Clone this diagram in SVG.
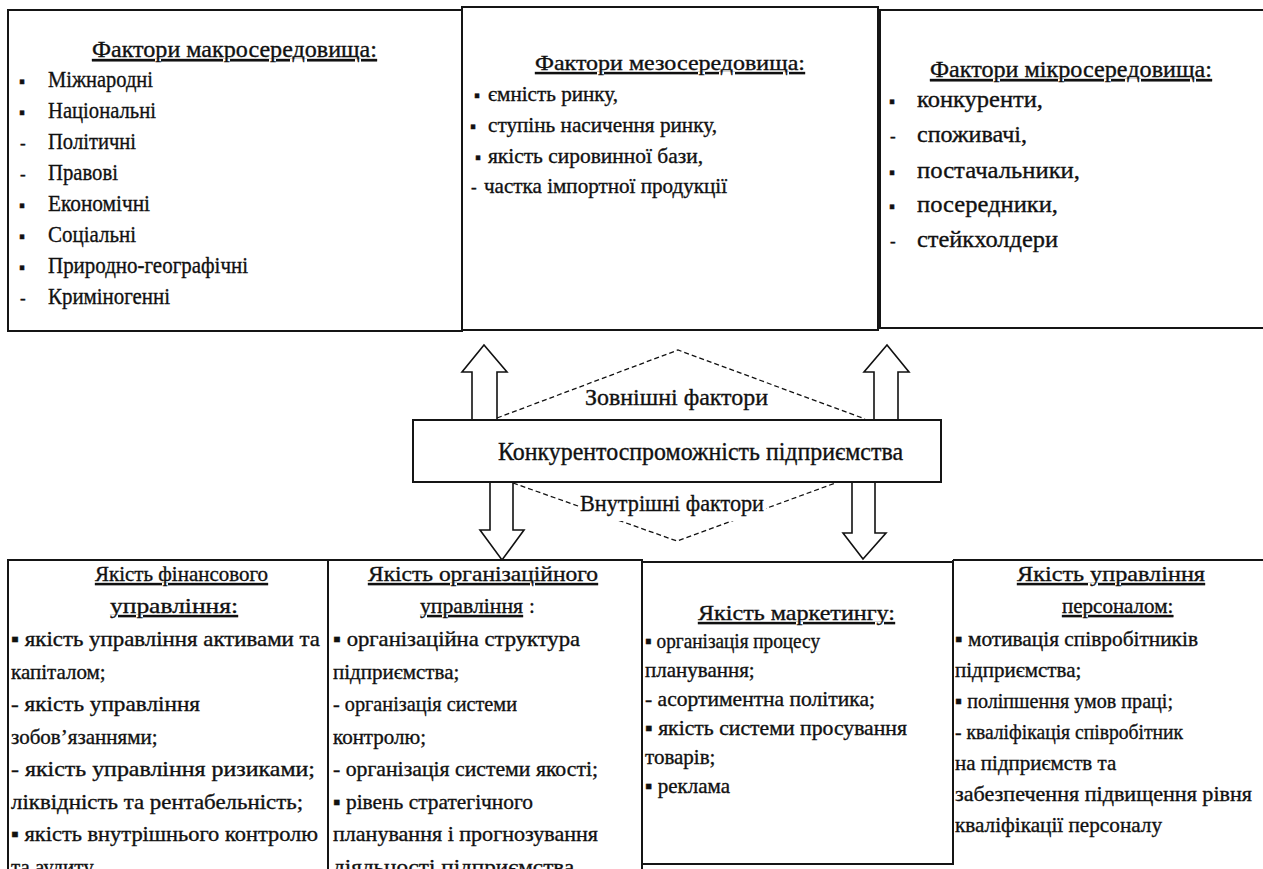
<svg xmlns="http://www.w3.org/2000/svg" width="1263" height="869" viewBox="0 0 1263 869" font-family="'Liberation Serif', 'Times New Roman', serif">
<style>
.bx{fill:#fff;stroke:#151515;stroke-width:2}
.t{font-family:'Liberation Serif','Times New Roman',serif;fill:#111;stroke:#111;stroke-width:0.35}
.s24{font-size:24px}
.s23{font-size:23px}
.s21{font-size:21px}
.b{font-size:17px}
.u{text-decoration:underline}
.arr{fill:#fff;stroke:#111;stroke-width:1.6}
.dash{fill:none;stroke:#111;stroke-width:1.3;stroke-dasharray:5 3}
</style>
<rect width="1263" height="869" fill="#fff"/>

<g id="macro">
<rect class="bx" x="8" y="10" width="454" height="321"/>
<text class="t s23 u" x="92" y="57" textLength="285" lengthAdjust="spacingAndGlyphs">Фактори макросередовища:</text>
<g class="t b">
<text x="19" y="87">▪</text><text x="19" y="118">▪</text><text x="20" y="149">-</text><text x="20" y="180">-</text>
<text x="19" y="211">▪</text><text x="19" y="242">▪</text><text x="19" y="273">▪</text><text x="20" y="304">-</text>
</g>
<g class="t s24">
<text x="48" y="87" textLength="105" lengthAdjust="spacingAndGlyphs">Міжнародні</text>
<text x="48" y="118" textLength="108" lengthAdjust="spacingAndGlyphs">Національні</text>
<text x="48" y="149" textLength="88" lengthAdjust="spacingAndGlyphs">Політичні</text>
<text x="48" y="180" textLength="70" lengthAdjust="spacingAndGlyphs">Правові</text>
<text x="48" y="211" textLength="102" lengthAdjust="spacingAndGlyphs">Економічні</text>
<text x="48" y="242" textLength="88" lengthAdjust="spacingAndGlyphs">Соціальні</text>
<text x="48" y="273" textLength="200" lengthAdjust="spacingAndGlyphs">Природно-географічні</text>
<text x="48" y="304" textLength="122" lengthAdjust="spacingAndGlyphs">Кримінoгенні</text>
</g>
</g>

<g id="meso">
<rect class="bx" x="462" y="7" width="416" height="323"/>
<text class="t s21 u" x="535" y="70" textLength="270" lengthAdjust="spacingAndGlyphs">Фактори мезосередовища:</text>
<g class="t b">
<text x="474" y="101">▪</text><text x="470" y="132">▪</text><text x="475" y="163">▪</text><text x="471" y="193">-</text>
</g>
<g class="t s21">
<text x="488" y="101" textLength="130" lengthAdjust="spacingAndGlyphs">ємність ринку,</text>
<text x="488" y="132" textLength="229" lengthAdjust="spacingAndGlyphs">ступінь  насичення  ринку,</text>
<text x="488" y="163" textLength="215" lengthAdjust="spacingAndGlyphs">якість сировинної бази,</text>
<text x="484" y="193" textLength="243" lengthAdjust="spacingAndGlyphs">частка імпортної продукції</text>
</g>
</g>

<g id="micro">
<rect class="bx" x="880" y="10" width="400" height="318"/>
<text class="t s23 u" x="930" y="77" textLength="282" lengthAdjust="spacingAndGlyphs">Фактори мікросередовища:</text>
<g class="t b">
<text x="889" y="107">▪</text><text x="890" y="142">-</text><text x="889" y="178">▪</text><text x="889" y="212">▪</text><text x="890" y="247">-</text>
</g>
<g class="t s24">
<text x="917" y="107" textLength="126" lengthAdjust="spacingAndGlyphs">конкуренти,</text>
<text x="917" y="142" textLength="110" lengthAdjust="spacingAndGlyphs">споживачі,</text>
<text x="917" y="178" textLength="163" lengthAdjust="spacingAndGlyphs">постачальники,</text>
<text x="917" y="212" textLength="141" lengthAdjust="spacingAndGlyphs">посередники,</text>
<text x="917" y="247" textLength="141" lengthAdjust="spacingAndGlyphs">стейкхолдери</text>
</g>
</g>

<g id="connectors">
<polyline class="dash" points="497,418 678,350 865,419"/>
<polyline class="dash" points="513,483 677,541 838,482"/>
<polygon class="arr" points="472,420 472,372 462,372 484,345 507,372 497,372 497,420"/>
<polygon class="arr" points="874,420 874,372 864,372 887,345 909,372 898,372 898,420"/>
<polygon class="arr" points="490,482 490,530 480,530 502,560 524,530 513,530 513,482"/>
<polygon class="arr" points="852,477 852,533 843,533 863,559 886,533 875,533 875,477"/>
<text class="t s24" x="585" y="405" textLength="183" lengthAdjust="spacingAndGlyphs">Зовнішні фактори</text>
<rect x="580" y="489" width="186" height="32" fill="#fff"/>
<text class="t s24" x="580" y="511" textLength="184" lengthAdjust="spacingAndGlyphs">Внутрішні фактори</text>
</g>

<g id="center">
<rect class="bx" x="413" y="420" width="528" height="62"/>
<text class="t" font-size="25" x="498" y="460" textLength="405" lengthAdjust="spacingAndGlyphs">Конкурентоспроможність підприємства</text>
</g>

<g id="fin">
<rect class="bx" x="8" y="560" width="320" height="330"/>
<text class="t s21 u" x="95" y="581" textLength="173" lengthAdjust="spacingAndGlyphs">Якість фінансового</text>
<text class="t s21 u" x="110" y="613" textLength="128" lengthAdjust="spacingAndGlyphs">управління:</text>
<g class="t s21">
<text x="11" y="646" textLength="309" lengthAdjust="spacingAndGlyphs">▪ якість управління  активами та</text>
<text x="11" y="678.5">капіталом;</text>
<text x="11" y="711" textLength="189" lengthAdjust="spacingAndGlyphs">- якість управління</text>
<text x="11" y="743.5">зобов’язаннями;</text>
<text x="11" y="776" textLength="304" lengthAdjust="spacingAndGlyphs">- якість управління  ризиками;</text>
<text x="11" y="808.5" textLength="292" lengthAdjust="spacingAndGlyphs">ліквідність та рентабельність;</text>
<text x="11" y="841" textLength="307" lengthAdjust="spacingAndGlyphs">▪ якість внутрішнього  контролю</text>
<text x="11" y="873.5">та аудиту</text>
</g>
</g>

<g id="org">
<rect class="bx" x="328" y="560" width="314" height="330"/>
<text class="t s21 u" x="368" y="581" textLength="230" lengthAdjust="spacingAndGlyphs">Якість організаційного</text>
<text class="t s21 u" x="420" y="613" textLength="103" lengthAdjust="spacingAndGlyphs">управління</text>
<text class="t s21" x="529" y="613">:</text>
<g class="t s21">
<text x="333" y="646" textLength="247" lengthAdjust="spacingAndGlyphs">▪ організаційна  структура</text>
<text x="333" y="678.5">підприємства;</text>
<text x="333" y="711" textLength="184" lengthAdjust="spacingAndGlyphs">- організація  системи</text>
<text x="333" y="743.5">контролю;</text>
<text x="333" y="776" textLength="265" lengthAdjust="spacingAndGlyphs">- організація  системи  якості;</text>
<text x="333" y="808.5" textLength="200" lengthAdjust="spacingAndGlyphs">▪ рівень  стратегічного</text>
<text x="333" y="841" textLength="265" lengthAdjust="spacingAndGlyphs">планування  і прогнозування</text>
<text x="333" y="873.5" textLength="247" lengthAdjust="spacingAndGlyphs">діяльності підприємства.</text>
</g>
</g>

<g id="mkt">
<rect class="bx" x="642" y="562" width="311" height="302" stroke-width="2.5"/>
<text class="t s21 u" x="698" y="620" textLength="197" lengthAdjust="spacingAndGlyphs">Якість маркетингу:</text>
<g class="t s21">
<text x="645" y="648" textLength="175" lengthAdjust="spacingAndGlyphs">▪ організація   процесу</text>
<text x="645" y="677">планування;</text>
<text x="645" y="706" textLength="230" lengthAdjust="spacingAndGlyphs">- асортиментна  політика;</text>
<text x="645" y="735" textLength="262" lengthAdjust="spacingAndGlyphs">▪ якість системи  просування</text>
<text x="645" y="764">товарів;</text>
<text x="645" y="793">▪ реклама</text>
</g>
</g>

<g id="hr">
<path d="M953,560 H1263 M953,560 V864" fill="none" stroke="#151515" stroke-width="2"/>
<text class="t s21 u" x="1017" y="581" textLength="188" lengthAdjust="spacingAndGlyphs">Якість управління</text>
<text class="t s21 u" x="1062" y="613">персоналом:</text>
<g class="t s21">
<text x="955" y="646" textLength="243" lengthAdjust="spacingAndGlyphs">▪ мотивація співробітників</text>
<text x="955" y="677">підприємства;</text>
<text x="955" y="708" textLength="218" lengthAdjust="spacingAndGlyphs">▪ поліпшення умов праці;</text>
<text x="955" y="739" textLength="228" lengthAdjust="spacingAndGlyphs">- кваліфікація співробітник</text>
<text x="955" y="770">на підприємств та</text>
<text x="955" y="801" textLength="297" lengthAdjust="spacingAndGlyphs">забезпечення  підвищення рівня</text>
<text x="955" y="832" textLength="207" lengthAdjust="spacingAndGlyphs">кваліфікації персоналу</text>
</g>
</g>
</svg>
